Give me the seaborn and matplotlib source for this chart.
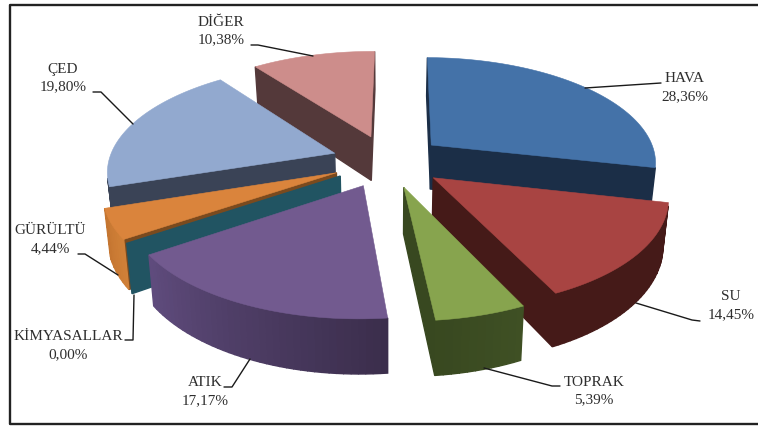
import numpy as np
import matplotlib
matplotlib.use("Agg")
import matplotlib.pyplot as plt
import seaborn as sns

categories = ["HAVA", "SU", "TOPRAK", "ATIK", "KİMYASALLAR", "GÜRÜLTÜ", "ÇED", "DİĞER"]
percent = [28.36, 14.45, 5.39, 17.17, 0.00, 4.44, 19.80, 10.38]
percent_labels = ["28,36%", "14,45%", "5,39%", "17,17%", "0,00%", "4,44%", "19,80%", "10,38%"]

top_colors = ["#4472A8", "#A84442", "#87A44E", "#725A8F", "#215462", "#DA843C", "#92A9CF", "#CD8D8B"]
radial_colors = ["#1B2E47", "#451A18", "#384820", "#3F3150", "#215462", "#7A4A1E", "#3A4356", "#54393A"]
wall_start = ["#1B2E47", "#451A18", "#3F5024", "#3B2E4C", "#215462", "#D08038", "#3A4356", "#54393A"]
wall_end = ["#1B2E47", "#451A18", "#384820", "#604C7E", "#215462", "#C47530", "#3A4356", "#54393A"]

# label centres and leader lines, in pixels of the 758x426 picture
label_xy = [(685, 88), (731, 306), (594, 391), (205, 392), (68, 346), (50, 240), (63, 78), (221, 31)]
leaders = [
    [(661, 83), (585, 88)],
    [(700, 321), (692, 320), (636, 303)],
    [(560, 386), (552, 386), (484, 368)],
    [(224, 387), (232, 387), (250, 359)],
    [(125, 340), (133, 340), (134, 295)],
    [(78, 254), (85, 254), (118, 275)],
    [(93, 92), (101, 92), (133, 124)],
    [(251, 45), (258, 45), (313, 56)],
]
draw_order = [7, 0, 6, 5, 4, 1, 2, 3]

# pie geometry
cx, cy = 388, 161
rx, ry = 226, 105
persp = 0.15
explode = 0.25
depth = 45
shrink = 0.98
start_deg = 0.5


def project(x, y):
    s = 1 / (1 + persp * y)
    return cx + rx * x * s, cy - ry * y * s, s


def top_and_bottom(x, y):
    px, py, s = project(x, y)
    return (px, py), (cx + (px - cx) * shrink, py + depth * s)


def fill_wall(ax, p1, p2, b2, b1, color):
    q = [p1, p2, b2, b1]
    area = sum(q[i][0] * q[(i + 1) % 4][1] - q[(i + 1) % 4][0] * q[i][1] for i in range(4))
    if area < 0:
        ax.fill(*zip(*q), color=color, lw=1.0, zorder=2)


sns.set_theme(style="white")
plt.rcParams["font.family"] = ["Liberation Serif", "DejaVu Serif"]

fig, ax = plt.subplots(figsize=(7.58, 4.26), dpi=100)
fig.subplots_adjust(0, 0, 1, 1)
ax.set_xlim(0, 758)
ax.set_ylim(426, 0)
ax.axis("off")

edges = start_deg + np.cumsum([0] + percent) * 3.6

for i in draw_order:
    a0, a1 = np.radians(edges[i]), np.radians(edges[i + 1])
    mid = (a0 + a1) / 2
    ox, oy = explode * np.sin(mid), explode * np.cos(mid)
    n = max(2, int(np.degrees(a1 - a0) / 1.5))
    angles = np.linspace(a0, a1, n)
    ramp = sns.blend_palette([wall_start[i], wall_end[i]], n)

    apex_t, apex_b = top_and_bottom(ox, oy)
    rim = [top_and_bottom(ox + np.sin(t), oy + np.cos(t)) for t in angles]

    # walls: the two cut faces and the outer rim, only those facing the viewer
    fill_wall(ax, apex_t, rim[0][0], rim[0][1], apex_b, radial_colors[i])
    fill_wall(ax, rim[-1][0], apex_t, apex_b, rim[-1][1], radial_colors[i])
    for j in range(n - 1):
        fill_wall(ax, rim[j][0], rim[j + 1][0], rim[j + 1][1], rim[j][1], ramp[j])

    if percent[i] > 0:
        outline = [apex_t] + [r[0] for r in rim]
        ax.fill(*zip(*outline), color=top_colors[i], lw=0.4, zorder=2)

for name, pct, (tx, ty), line in zip(categories, percent_labels, label_xy, leaders):
    ax.text(tx, ty, name + "\n" + pct, ha="center", va="center", fontsize=11,
            color="#2e2e2e", linespacing=1.5, zorder=4)
    ax.plot(*zip(*line), color="#1a1a1a", lw=1.0, zorder=3)

# picture frame, runs off the right side
ax.plot([770, 9.5, 9.5, 770], [4.5, 4.5, 424, 424], color="#222222", lw=1.7, zorder=5)

fig.savefig("out.png", dpi=100)
